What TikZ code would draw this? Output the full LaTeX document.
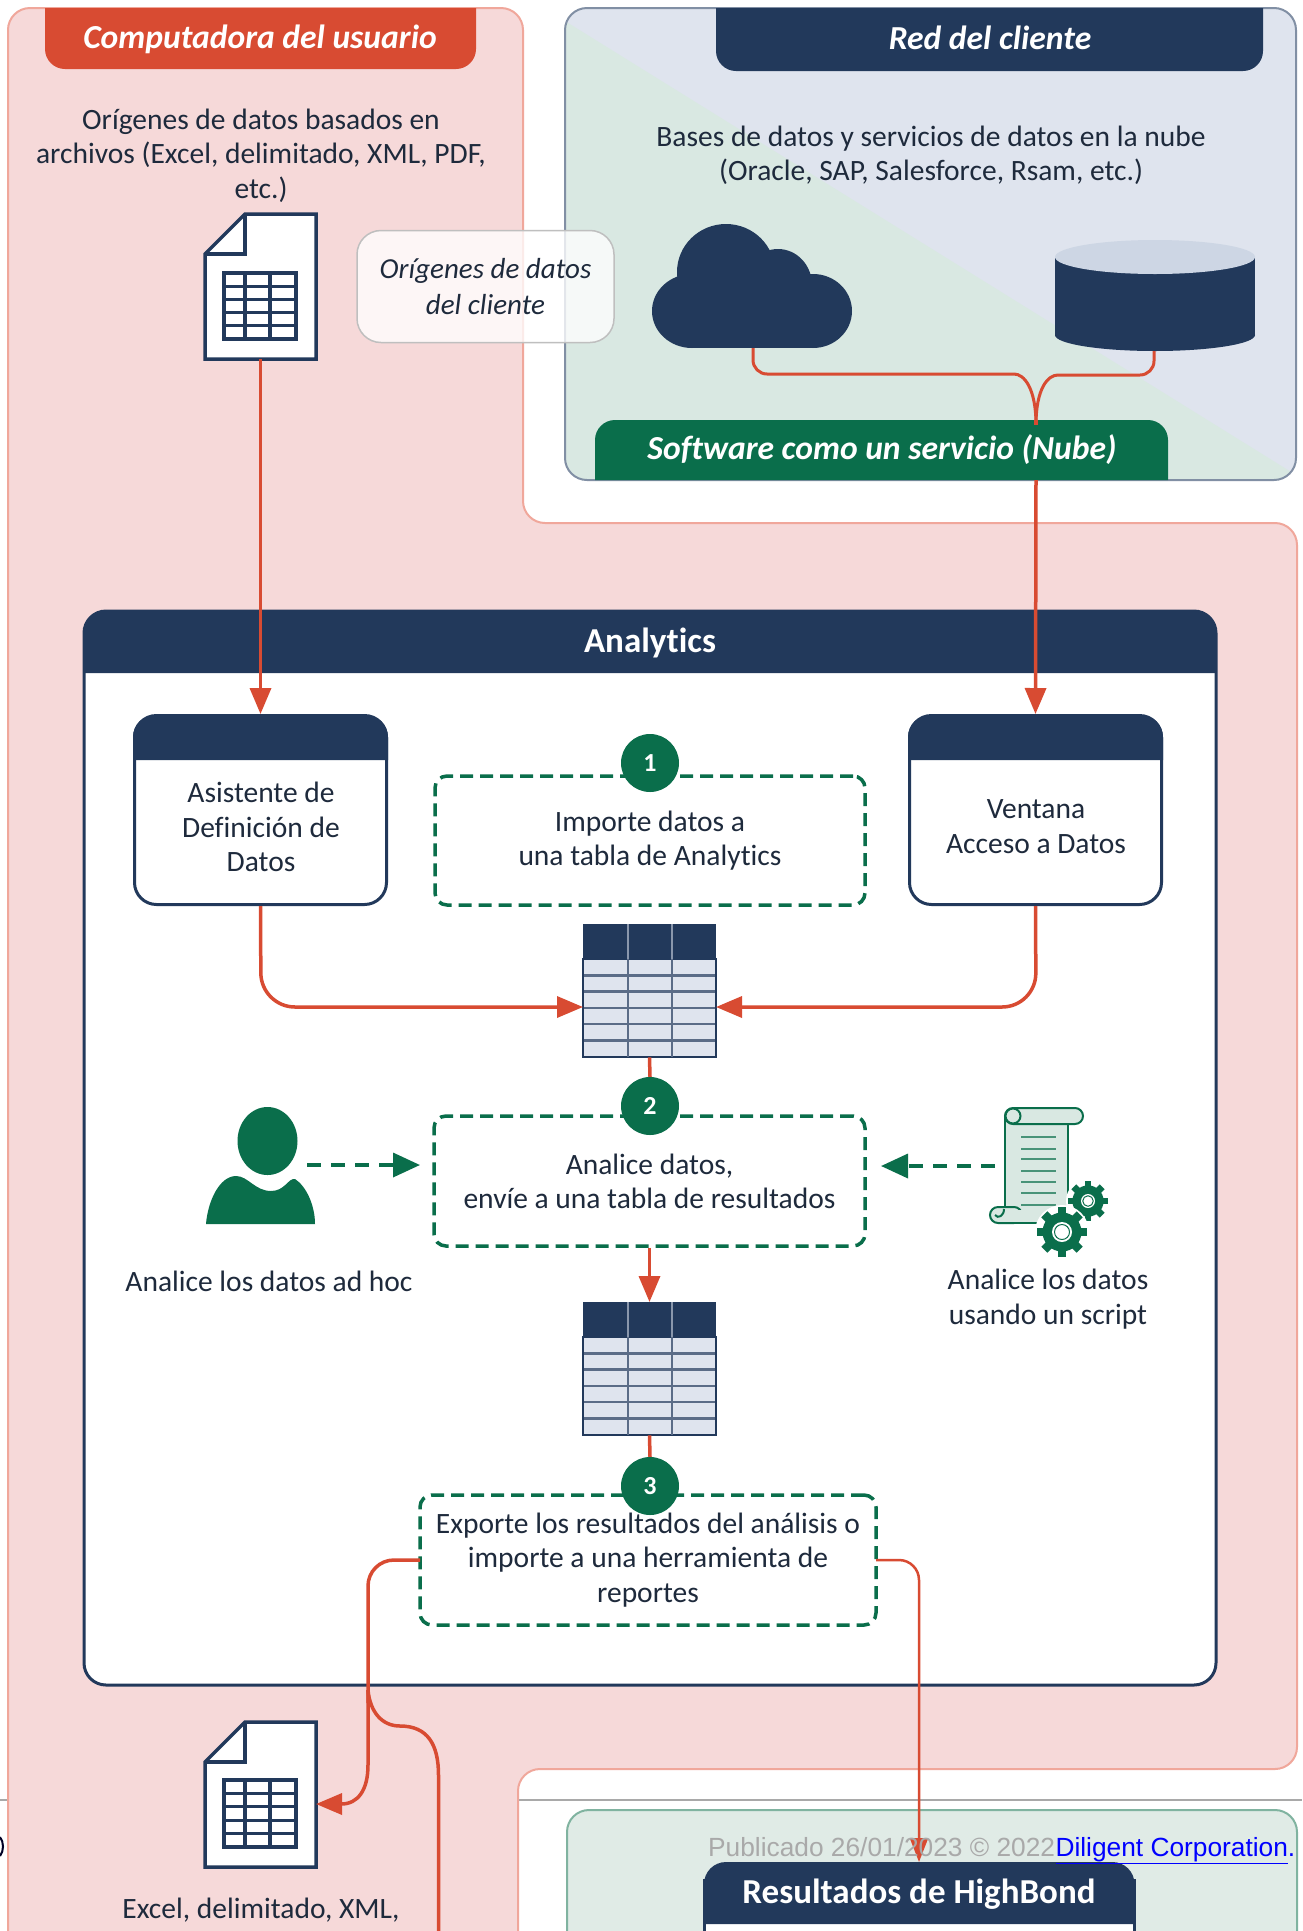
\documentclass[tikz,border=0pt]{standalone}
\usepackage{fontspec}
\setmainfont[Ligatures=NoCommon]{Carlito}
\newfontfamily\arialfont{Liberation Sans}
\usetikzlibrary{arrows.meta,calc}
\definecolor{navy}{HTML}{22395B}
\definecolor{leaf}{HTML}{0A6E4B}
\definecolor{rust}{HTML}{D84B32}
\definecolor{pinkbg}{HTML}{F6D9D9}
\definecolor{pinkln}{HTML}{F0A79B}
\definecolor{bluebg}{HTML}{DFE4EE}
\definecolor{dbtop}{HTML}{CDD6E4}
\definecolor{mintbg}{HTML}{D9E8E2}
\definecolor{mintb}{HTML}{E0EBE6}
\definecolor{ink}{HTML}{1E2A3C}
\definecolor{rulegray}{HTML}{A9A9A9}
\tikzset{
  x=1pt,y=-1pt,
  lbl/.style={align=center,text=ink,inner sep=0pt,font=\fontsize{29.5}{34.3}\selectfont},
  ilbl/.style={lbl,font=\fontsize{29}{35.7}\selectfont\itshape},
  hdr/.style={align=center,text=white,inner sep=0pt,font=\fontsize{33.6}{38}\selectfont\bfseries\itshape},
  bhdr/.style={align=center,text=white,inner sep=0pt,font=\fontsize{35}{40}\selectfont\bfseries},
  stepdash/.style={draw=leaf,line width=3.5pt,dash pattern=on 13pt off 7pt,rounded corners=12pt,inner sep=0pt,fill=white},
  winbox/.style={draw=navy,line width=3pt,rounded corners=22pt,fill=white,inner sep=0pt},
  badge/.style={circle,fill=leaf,text=white,inner sep=0pt,minimum size=58pt,font=\fontsize{26}{26}\selectfont\bfseries},
  flow/.style={draw=rust,line width=3.5pt},
  flowtip/.style={flow,-{Triangle[length=26pt,width=21pt]}},
  thinflow/.style={draw=rust,line width=2.5pt,-{Triangle[length=24pt,width=18pt]}},
  dasharrow/.style={draw=leaf,line width=3.5pt,dash pattern=on 14pt off 10pt,-{Triangle[length=27pt,width=24pt]}},
  hole/.style={inner sep=0pt,minimum size=1pt},
  scrollpart/.style={draw=leaf,fill=mintbg,line width=2pt},
}
% name, top y
\newcommand{\datatable}[2]{%
  \node[hole,minimum width=133pt,minimum height=133pt,anchor=north] (#1) at (649.5,#2) {};
  \fill[bluebg] (583,#2) rectangle (716,#2+133);
  \fill[navy] (583,#2) rectangle (716,#2+35);
  \foreach \r in {1,...,5}{\draw[navy!70!bluebg,line width=2.5pt] (583,#2+35+\r*16.3) -- (716,#2+35+\r*16.3);}
  \draw[navy,line width=2pt] (583,#2+35) rectangle (716,#2+133);
  \foreach \c in {627.5,671.5}{
    \draw[navy!70!bluebg,line width=2pt] (\c,#2+35) -- (\c,#2+133);
    \draw[navy!45!bluebg,line width=2pt] (\c,#2) -- (\c,#2+35);}
}
% name, top y, fold y, table top, table bottom
\newcommand{\fileicon}[5]{%
  \node[hole,minimum width=113pt,minimum height=#3-#2,anchor=north] (#1) at (260.5,#2) {};
  \draw[navy,fill=white,line width=3.5pt,line join=miter] (245,#2) -- (316,#2) -- (316,#5+20) -- (205,#5+20) -- (205,#3) -- cycle;
  \draw[navy,line width=3.5pt] (205,#3) -- (245,#3) -- (245,#2);
  \fill[white] (224,#4) rectangle (296,#5);
  \draw[navy,line width=3.5pt] (224,#4) rectangle (296,#5);
  \foreach \c in {245,270}{\draw[navy,line width=3.5pt] (\c,#4) -- (\c,#5);}
  \foreach \r in {1,2,3,4}{\draw[navy,line width=3pt] (224,{#4+\r*(#5-#4)/5}) -- (296,{#4+\r*(#5-#4)/5});}
}
% cx cy r hole
\newcommand{\gearwheel}[4]{%
  \fill[white] (#1,#2) circle ({#3+2});
  \fill[leaf] (#1,#2) circle ({#3*0.78});
  \foreach \a in {0,45,...,315}{
    \fill[leaf,shift={(#1,#2)},rotate=\a] (-{#3*0.17},0) rectangle ({#3*0.17},#3);}
  \fill[white] (#1,#2) circle (#4);
  \draw[leaf,line width=1pt] (#1,#2) circle ({#4*0.75});
  \fill[white] (#1,#2) circle ({#4*0.55});
}
\begin{document}
\begin{tikzpicture}
\useasboundingbox (0,0) rectangle (1302,1931);
\clip (0,0) rectangle (1302,1931);
\fill[white] (0,0) rectangle (1302,1931);

% page furniture beneath the panels
\draw[rulegray,line width=2pt] (0,1800) -- (1302,1800);
\draw[black!85!blue,line width=2pt] (0,1837) .. controls (4,1842) and (4,1851) .. (0,1856);

% user panel
\draw[pinkln,fill=pinkbg,line width=2pt,rounded corners=22pt]
  (8,1960) -- (8,8) -- (523,8) -- (523,523) -- (1297,523) -- (1297,1769) -- (518,1769) -- (518,1960);

% client network panel
\begin{scope}
  \clip[rounded corners=22pt] (565,8) rectangle (1296,480);
  \fill[bluebg] (565,8) rectangle (1296,480);
  \fill[mintbg] (565,21) -- (1296,475) -- (1296,480) -- (565,480) -- cycle;
\end{scope}
\draw[navy!50!bluebg,line width=2pt,rounded corners=22pt] (565,8) rectangle (1296,480);

% HighBond panel
\draw[fill=mintb,draw=leaf!45!mintb,line width=2pt,rounded corners=22pt] (567,1960) -- (567,1810) -- (1297,1810) -- (1297,1960);

% title tabs
\fill[rust] (45,8) [rounded corners=20pt] -- (45,69) -- (476,69) [sharp corners] -- (476,8) -- cycle;
\node[hdr] (usertab) at (260,39.5) {Computadora del usuario};
\fill[navy] (716,8) [rounded corners=20pt] -- (716,71) -- (1263,71) [sharp corners] -- (1263,8) -- cycle;
\node[hdr] (nettab) at (990,38) {Red del cliente};

% sources text
\node[lbl] (srcfiles) at (261,155.5) {Orígenes de datos basados en\\archivos (Excel, delimitado, XML, PDF,\\etc.)};
\node[lbl] (srccloud) at (931,155) {Bases de datos y servicios de datos en la nube\\(Oracle, SAP, Salesforce, Rsam, etc.)};

% file icon top
\fileicon{filetop}{214}{254}{273}{339}
\coordinate (filetopout) at (260.5,359);

% callout
\node[draw=black!25,line width=1.5pt,fill=white,fill opacity=.78,text opacity=1,rounded corners=24pt,minimum width=257pt,minimum height=112pt,inner sep=0pt,ilbl,text=ink] (callout) at (485.5,286.5) {Orígenes de datos\\del cliente};

% cloud
\fill[navy] (692,311) ellipse (40 and 37);
\fill[navy] (726,272) ellipse (49 and 48);
\fill[navy] (778,285) ellipse (34 and 36);
\fill[navy] (813,311) ellipse (39 and 37);
\fill[navy] (692,290) rectangle (813,348);
\coordinate (cloudout) at (753,348);

% database
\fill[navy] (1055,335) rectangle (1255,258);
\fill[navy] (1155,335) ellipse (100 and 16);
\fill[dbtop] (1155,257) ellipse (100 and 17);
\coordinate (dbout) at (1154,351);

% merge into SaaS
\coordinate (merge) at (1036,425);
\draw[flow,line width=3pt,rounded corners=14pt] (cloudout) -- (753,374) -- (1000,374) [sharp corners] .. controls (1024,374) and (1036,388) .. (merge);
\draw[flow,line width=3pt,rounded corners=14pt] (dbout) -- (1154,375) -- (1072,375) [sharp corners] .. controls (1048,375) and (1036,388) .. (merge);

% SaaS tab
\fill[leaf] (595,480) [rounded corners=20pt] -- (595,420) -- (1168,420) [sharp corners] -- (1168,480) -- cycle;
\node[hdr] (saastab) at (882,450) {Software como un servicio (Nube)};
\coordinate (saasout) at (1036,480);

% Analytics window
\node[winbox,minimum width=1132pt,minimum height=1074pt] (analytics) at (650,1148) {};
\fill[navy] (84,673) [rounded corners=22pt] -- (84,611) -- (1216,611) [sharp corners] -- (1216,673) -- cycle;
\node[bhdr] (antitle) at (650,643) {Analytics};

% dialog windows
\node[winbox,minimum width=252pt,minimum height=189pt] (wizard) at (260.5,810) {};
\fill[navy] (133,760) [rounded corners=22pt] -- (133,715) -- (388,715) [sharp corners] -- (388,760) -- cycle;
\node[lbl] (wizardtxt) at (261,827) {Asistente de\\Definición de\\Datos};
\node[winbox,minimum width=252pt,minimum height=189pt] (access) at (1035.5,810) {};
\fill[navy] (908,760) [rounded corners=22pt] -- (908,715) -- (1163,715) [sharp corners] -- (1163,760) -- cycle;
\node[lbl] (accesstxt) at (1036,826.5) {Ventana\\Acceso a Datos};

% steps
\node[stepdash,lbl,minimum width=430pt,minimum height=129pt] (stepa) at (650,840.5) {Importe datos a\\una tabla de Analytics};
\node[stepdash,lbl,minimum width=431pt,minimum height=130pt] (stepb) at (649.5,1181) {Analice datos,\\envíe a una tabla de resultados};
\node[stepdash,lbl,minimum width=456pt,minimum height=130pt] (stepc) at (648,1560) {Exporte los resultados del análisis o\\importe a una herramienta de\\reportes};

% tables
\datatable{taba}{924}
\datatable{tabb}{1302}
\coordinate (tabain) at (583,1007);
\coordinate (tabbin) at (716,1007);

% badges
\node[badge] (bone) at (650,763) {1};
\node[badge] (btwo) at (650,1106) {2};
\node[badge] (bthree) at (650,1486) {3};

% person
\fill[leaf] (267.5,1141) ellipse (30 and 34);
\fill[leaf] (206,1224) .. controls (208,1200) and (220,1176) .. (236,1176) .. controls (248,1176) and (255,1191) .. (271,1191) .. controls (285,1191) and (288,1178) .. (295,1179) .. controls (306,1186) and (315,1205) .. (315,1224) -- cycle;
\coordinate (personout) at (307,1165);
\coordinate (personin) at (420,1165);
\node[lbl] (adhoc) at (269,1281) {Analice los datos ad hoc};

% script icon
\draw[scrollpart] (1005,1116) rectangle (1068,1223);
\draw[scrollpart,rounded corners=8pt] (1005,1108) rectangle (1083,1124);
\draw[scrollpart] (1013,1116) circle (7.5);
\draw[scrollpart,rounded corners=8pt] (990,1207) rectangle (1022,1223);
\fill[mintbg] (1003,1210) rectangle (1024,1221.5);
\draw[leaf,line width=2pt] (1004,1209) .. controls (1004,1216) and (998,1219) .. (995,1215);
\foreach \yy in {1137,1149,1159,1171,1182,1193,1205}{\draw[leaf!70!mintbg,line width=2.5pt] (1021,\yy) -- (1056,\yy);}
\gearwheel{1088}{1201}{20}{7}
\gearwheel{1062}{1232}{25}{10}
\coordinate (scriptout) at (995,1166);
\coordinate (scriptin) at (881,1166);
\node[lbl] (scripttxt) at (1048,1299) {Analice los datos\\usando un script};

% connectors
\draw[flowtip] (filetopout) -- (wizard.north);
\draw[flowtip] (saasout) -- (access.north);
\draw[flow] (merge) -- (1036,420);
\draw[flowtip,rounded corners=34pt] (wizard.south) -- (261,1007) -- (tabain);
\draw[flowtip,rounded corners=34pt] (access.south) -- (1036,1007) -- (tabbin);
\draw[flow] (taba.south) -- (btwo.north);
\draw[flowtip] (stepb.south) -- (tabb.north);
\draw[flow] (tabb.south) -- (bthree.north);
\draw[dasharrow] (personout) -- (personin);
\draw[dasharrow] (scriptout) -- (scriptin);

% second file icon
\fileicon{filelow}{1722}{1762}{1780}{1847}
\coordinate (fileloweast) at (316,1804);
\coordinate (stepcw) at (420,1560);
\coordinate (stepce) at (876,1560);
\coordinate (hbout) at (438.5,1931);
\coordinate (hbin) at (919,1862);
\node[lbl] (lowtxt) at (261,1910) {Excel, delimitado, XML,};

% HighBond window
\draw[navy,fill=white,line width=3pt] (704,1960) -- (704,1880) -- (1134.5,1880) -- (1134.5,1960);
\fill[navy] (704,1924) [rounded corners=22pt] -- (704,1862) -- (1134.5,1862) [sharp corners] -- (1134.5,1924) -- cycle;
\node[bhdr] (hbtitle) at (919,1894) {Resultados de HighBond};

\draw[flow,rounded corners=26pt] (stepcw) -- (368,1560) -- (368,1703);
\draw[flowtip] (368,1690) -- (368,1765) .. controls (368,1790) and (358,1804) .. (fileloweast);
\draw[flow] (368,1690) .. controls (370,1712) and (382,1726) .. (400,1726) .. controls (428,1726) and (438.5,1745) .. (438.5,1775) -- (hbout);
\draw[thinflow,rounded corners=20pt] (stepce) -- (919,1560) -- (hbin);

% footer
\node[inner sep=0pt,anchor=base west,text=rulegray,font=\arialfont\fontsize{26.3}{30}\selectfont] (pub) at (708,1856) {Publicado 26/01/2023 © 2022};
\node[inner sep=0pt,anchor=base west,text=blue,font=\arialfont\fontsize{26.3}{30}\selectfont] (dil) at (pub.base east) {\underline{Diligent Corporation}.};
\end{tikzpicture}
\end{document}
